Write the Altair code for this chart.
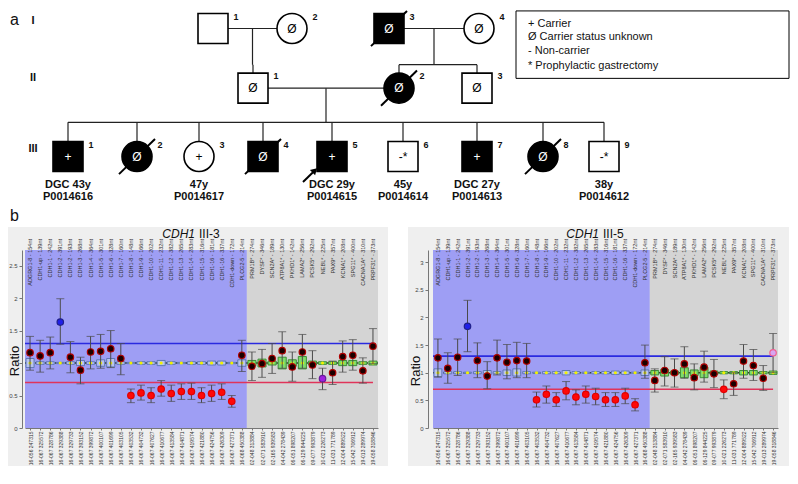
import altair as alt
import pandas as pd

FONT = "Liberation Sans"

# ---------------- pedigree (panel a) ----------------
ped_id = ["I-1", "I-2", "I-3", "I-4", "II-1", "II-2", "II-3",
          "III-1", "III-2", "III-3", "III-4", "III-5", "III-6", "III-7", "III-8", "III-9"]
ped_gen = ["I", "I", "I", "I", "II", "II", "II",
           "III", "III", "III", "III", "III", "III", "III", "III", "III"]
ped_num = ["1", "2", "3", "4", "1", "2", "3", "1", "2", "3", "4", "5", "6", "7", "8", "9"]
ped_sex = ["M", "F", "M", "F", "M", "F", "M", "M", "F", "F", "M", "M", "M", "M", "F", "M"]
ped_affected = ["no", "no", "yes", "no", "no", "yes", "no",
                "yes", "yes", "no", "yes", "yes", "no", "yes", "yes", "no"]
ped_status = ["", "Ø", "Ø", "Ø", "Ø", "Ø", "Ø", "+", "Ø", "+", "Ø", "+", "-*", "+", "Ø", "-*"]
ped_deceased = [False, False, True, False, False, True, False,
                False, True, False, True, False, False, False, True, False]
ped_proband = [False] * 11 + [True] + [False] * 4
ped_x = [213, 292, 389, 479, 253, 399, 477, 68, 137, 199, 263, 332, 403, 477, 543, 604]
gen_y = {"I": 21, "II": 82, "III": 152}
ped_line1 = [""] * 7 + ["DGC 43y", "", "47y", "", "DGC 29y", "45y", "DGC 27y", "", "38y"]
ped_line2 = [""] * 7 + ["P0014616", "", "P0014617", "", "P0014615", "P0014614", "P0014613", "", "P0014612"]

couples = [("I-1", "I-2", ["II-1"]),
           ("I-3", "I-4", ["II-2", "II-3"]),
           ("II-1", "II-2", ["III-1", "III-2", "III-3", "III-4", "III-5",
                             "III-6", "III-7", "III-8", "III-9"])]
sibship_y = {"I": 58, "II": 117}

gen_labels = ["I", "II", "III"]
gen_label_y = [13, 72, 144]

legend_lines = ["+ Carrier", "Ø Carrier status unknown", "-  Non-carrier", "*   Prophylactic gastrectomy"]
legend_y = [16, 30, 44, 59]

ped = pd.DataFrame({"id": ped_id, "gen": ped_gen, "num": ped_num, "sex": ped_sex,
                    "affected": ped_affected, "status": ped_status, "deceased": ped_deceased,
                    "proband": ped_proband, "x": ped_x, "line1": ped_line1, "line2": ped_line2})
ped["y"] = ped["gen"].map(gen_y)
pos = {r.id: (r.x, r.y) for r in ped.itertuples()}

segs = []
for a, b, kids in couples:
    (xa, ya), (xb, yb) = pos[a], pos[b]
    segs.append((xa + 15, ya, xb - 15, yb))
    mid = (xa + xb) / 2
    sy = sibship_y[ped.loc[ped.id == a, "gen"].iloc[0]]
    segs.append((mid, ya, mid, sy))
    kx = [pos[k][0] for k in kids]
    segs.append((min(kx + [mid]), sy, max(kx + [mid]), sy))
    for k in kids:
        segs.append((pos[k][0], sy, pos[k][0], pos[k][1] - 15))
seg_df = pd.DataFrame(segs, columns=["x1", "y1", "x2", "y2"])

PW, PH = 765, 216
pxs = alt.Scale(domain=[25, 790], nice=False, zero=False)
pys = alt.Scale(domain=[221, 0], nice=False, zero=False)
PX = lambda f: alt.X(f, scale=pxs, axis=None)
PY = lambda f: alt.Y(f, scale=pys, axis=None)

ped_lines = alt.Chart(seg_df).mark_rule(color="#222", strokeWidth=1.2, clip=True).encode(
    x=PX("x1:Q"), y=PY("y1:Q"), x2="x2:Q", y2="y2:Q")

ped_syms = alt.Chart(ped).mark_point(filled=True, size=900, stroke="black", strokeWidth=1.6,
                                      opacity=1, clip=True).encode(
    x=PX("x:Q"), y=PY("y:Q"),
    shape=alt.Shape("sex:N", scale=alt.Scale(domain=["M", "F"], range=["square", "circle"]), legend=None),
    fill=alt.Fill("affected:N", scale=alt.Scale(domain=["yes", "no"], range=["#000000", "#ffffff"]), legend=None))

ped_slash = alt.Chart(ped).transform_filter("datum.deceased").transform_calculate(
    sx1="datum.x - 18", sy1="datum.y + 18", sx2="datum.x + 18", sy2="datum.y - 18"
).mark_rule(color="black", strokeWidth=2, clip=True).encode(
    x=PX("sx1:Q"), y=PY("sy1:Q"), x2="sx2:Q", y2="sy2:Q")

ped_status_t = alt.Chart(ped).mark_text(fontSize=12, font=FONT, clip=True).encode(
    x=PX("x:Q"), y=PY("y:Q"), text="status:N",
    color=alt.Color("affected:N", scale=alt.Scale(domain=["yes", "no"], range=["#ffffff", "#000000"]), legend=None))

ped_num_t = alt.Chart(ped).mark_text(fontSize=9, fontWeight="bold", font=FONT, dx=23, dy=-12,
                                      color="#111", clip=True).encode(
    x=PX("x:Q"), y=PY("y:Q"), text="num:N")

ped_l1 = alt.Chart(ped).mark_text(fontSize=11, fontWeight="bold", font=FONT, dy=28, color="#111",
                                   clip=True).encode(x=PX("x:Q"), y=PY("y:Q"), text="line1:N")
ped_l2 = alt.Chart(ped).mark_text(fontSize=11, fontWeight="bold", font=FONT, dy=40, color="#111",
                                   clip=True).encode(x=PX("x:Q"), y=PY("y:Q"), text="line2:N")

prob = ped[ped.proband].copy()
prob_arrow = alt.Chart(prob).transform_calculate(
    ax1="datum.x - 29", ay1="datum.y + 26", ax2="datum.x - 19", ay2="datum.y + 16"
).mark_rule(color="black", strokeWidth=2, clip=True).encode(
    x=PX("ax1:Q"), y=PY("ay1:Q"), x2="ax2:Q", y2="ay2:Q")
prob_head = alt.Chart(prob).transform_calculate(hx="datum.x - 18", hy="datum.y + 15").mark_point(
    shape="triangle", angle=45, size=55, filled=True, color="black", opacity=1, clip=True).encode(
    x=PX("hx:Q"), y=PY("hy:Q"))

gen_df = pd.DataFrame({"g": gen_labels, "y": gen_label_y, "x": [33] * 3})
gen_t = alt.Chart(gen_df).mark_text(fontSize=11, fontWeight="bold", font=FONT, color="#111", clip=True).encode(
    x=PX("x:Q"), y=PY("y:Q"), text="g:N")

leg_box_df = pd.DataFrame({"x1": [516], "x2": [789], "y1": [3], "y2": [72]})
leg_box = alt.Chart(leg_box_df).mark_rect(fill="white", stroke="black", strokeWidth=1, clip=True).encode(
    x=PX("x1:Q"), x2="x2:Q", y=PY("y1:Q"), y2="y2:Q")
leg_df = pd.DataFrame({"t": legend_lines, "y": legend_y, "x": [528] * 4})
leg_t = alt.Chart(leg_df).mark_text(fontSize=11, font=FONT, align="left", color="#111", clip=True).encode(
    x=PX("x:Q"), y=PY("y:Q"), text="t:N")

panel_lab_df = pd.DataFrame({"t": ["a", "b"], "x": [10, 10], "y": [12, 213]})
panel_lab = alt.Chart(panel_lab_df).mark_text(fontSize=16, font=FONT, align="left", color="#111").encode(
    x=PX("x:Q"), y=PY("y:Q"), text="t:N")

pedigree = alt.layer(ped_lines, leg_box, leg_t, ped_syms, ped_slash, ped_status_t, ped_num_t,
                     ped_l1, ped_l2, prob_arrow, prob_head, gen_t, panel_lab).resolve_scale(
    fill="independent", color="independent").properties(width=PW, height=PH)

# ---------------- MLPA ratio charts (panel b) ----------------
top_labels = ["ADGRG1-8 - 154nt", "CDH1-up - 139nt", "CDH1-1 - 242nt", "CDH1-2 - 391nt", "CDH1-2 - 193nt",
              "CDH1-3 - 268nt", "CDH1-4 - 364nt", "CDH1-5 - 301nt", "CDH1-6 - 328nt", "CDH1-7 - 160nt",
              "CDH1-8 - 148nt", "CDH1-9 - 166nt", "CDH1-10 - 202nt", "CDH1-11 - 232nt", "CDH1-12 - 382nt",
              "CDH1-13 - 265nt", "CDH1-14 - 283nt", "CDH1-15 - 316nt", "CDH1-16 - 181nt", "CDH1-16 - 337nt",
              "CDH1-down - 172nt", "PLCG2-5 - 214nt", "PRM1B* - 274nt", "DYSF* - 346nt", "SCN2A* - 189nt",
              "ATP8A1* - 130nt", "PKHD1* - 142nt", "LAMA2* - 256nt", "PCSK5* - 292nt", "NEBL* - 225nt",
              "PAX9* - 357nt", "KCNA1* - 208nt", "SPG11* - 400nt", "CACNA1A* - 310nt", "PRPF31* - 373nt"]
bottom_labels = ["16-056 247315", "16-067 325572", "16-067 328786", "16-067 329388", "16-067 329733",
                 "16-067 393152", "16-067 399872", "16-067 400107", "16-067 401699", "16-067 403105",
                 "16-067 403532", "16-067 404732", "16-067 407627", "16-067 410677", "16-067 413584",
                 "16-067 414871", "16-067 419574", "16-067 421880", "16-067 424756", "16-067 426309",
                 "16-067 427371", "16-068 450388", "02-048 313884", "02-071 583910", "02-165 939583",
                 "04-042 278439", "06-051 898207", "06-129 844225", "09-077 993879", "10-021 226273",
                 "11-031 771789", "12-004 889522", "15-042 706912", "19-013 289974", "19-058 318846"]
region = ["target"] * 22 + ["reference"] * 13

ref_lo = [0.93, 0.98, 0.98, 0.99, 0.98, 0.96, 0.98, 0.95, 0.94, 0.98, 0.99, 0.98, 0.98, 0.96, 0.98, 0.99, 0.98,
          0.98, 0.97, 0.97, 0.99, 0.95, 0.96, 0.94, 0.97, 0.91, 0.95, 0.91, 0.97, 0.98, 0.98, 0.96, 0.96, 0.98, 0.97]
ref_hi = [1.07, 1.02, 1.02, 1.01, 1.02, 1.04, 1.02, 1.05, 1.07, 1.02, 1.01, 1.02, 1.02, 1.04, 1.02, 1.01, 1.02,
          1.02, 1.03, 1.03, 1.01, 1.05, 1.04, 1.06, 1.03, 1.09, 1.05, 1.10, 1.03, 1.02, 1.02, 1.04, 1.04, 1.02, 1.03]

# sample III-3
r3_ratio = [1.16, 1.11, 1.16, 1.63, 1.09, 0.89, 1.17, 1.18, 1.22, 1.07, 0.50, 0.54, 0.50, 0.60, 0.53, 0.56, 0.56,
            0.50, 0.53, 0.55, 0.41, 1.12, 0.95, 0.99, 1.07, 1.19, 0.94, 1.17, 0.97, 0.76, 0.85, 1.10, 1.12, 0.88, 1.26]
r3_lo = [0.89, 0.86, 0.91, 1.29, 0.85, 0.68, 0.91, 0.92, 0.93, 0.82, 0.39, 0.43, 0.39, 0.49, 0.41, 0.44, 0.44,
         0.39, 0.41, 0.44, 0.32, 0.87, 0.73, 0.78, 0.84, 0.92, 0.72, 0.92, 0.76, 0.59, 0.67, 0.86, 0.89, 0.69, 0.99]
r3_hi = [1.41, 1.35, 1.40, 1.99, 1.33, 1.09, 1.41, 1.44, 1.50, 1.30, 0.60, 0.66, 0.62, 0.73, 0.66, 0.68, 0.69,
         0.62, 0.66, 0.68, 0.50, 1.35, 1.17, 1.21, 1.30, 1.48, 1.17, 1.44, 1.19, 0.92, 1.03, 1.34, 1.36, 1.08, 1.53]
r3_cls = ["n", "n", "n", "g", "n", "n", "n", "n", "n", "n"] + ["d"] * 11 + \
         ["n", "n", "n", "n", "n", "n", "n", "n", "p", "n", "n", "n", "n", "n"]

# sample III-5
r5_ratio = [1.27, 1.08, 1.28, 1.84, 1.22, 0.94, 1.27, 1.19, 1.22, 1.21, 0.51, 0.61, 0.51, 0.67, 0.56, 0.61, 0.57,
            0.51, 0.51, 0.58, 0.42, 1.18, 0.86, 1.04, 1.00, 1.16, 0.91, 1.10, 0.98, 0.70, 0.80, 1.21, 1.13, 0.90, 1.36]
r5_lo = [0.92, 0.81, 0.95, 1.38, 0.91, 0.71, 0.96, 0.89, 0.91, 0.91, 0.38, 0.45, 0.39, 0.51, 0.42, 0.45, 0.42,
         0.39, 0.39, 0.44, 0.31, 0.90, 0.65, 0.76, 0.74, 0.90, 0.69, 0.83, 0.73, 0.53, 0.59, 0.90, 0.86, 0.68, 1.00]
r5_hi = [1.61, 1.36, 1.61, 2.31, 1.54, 1.20, 1.59, 1.51, 1.55, 1.53, 0.65, 0.76, 0.64, 0.84, 0.69, 0.76, 0.72,
         0.64, 0.64, 0.72, 0.53, 1.50, 1.07, 1.29, 1.25, 1.47, 1.16, 1.39, 1.24, 0.87, 1.00, 1.51, 1.42, 1.13, 1.71]
r5_cls = ["n", "n", "n", "g", "n", "n", "n", "n", "n", "n"] + ["d"] * 11 + \
         ["n", "n", "n", "n", "n", "n", "n", "n", "d", "n", "n", "n", "n", "l"]

upper_threshold = 1.3
lower_threshold = 0.7

H = 178
cls_dom = ["n", "g", "d", "p", "l"]
cls_fill = ["#1a0000", "#2020e8", "#ff0808", "#a020e0", "#d7a6f2"]
cls_stroke = ["#b00000", "#20208a", "#e00000", "#6a1a9a", "#f06090"]


def mlpa_chart(ratio, lo, hi, cls, ymax, yticks, width, sample, title_x, ratio_x, ratio_y,
               rect_l, rect_r, axis_off):
    n = len(top_labels)
    df = pd.DataFrame({"idx": list(range(n)), "top": top_labels, "ratio": ratio, "lo": lo, "hi": hi,
                       "cls": cls, "rlo": ref_lo, "rhi": ref_hi, "region": region, "one": [1.0] * n})
    expr = "[" + ",".join("'%s'" % s for s in bottom_labels) + "][datum.value]"
    xs = alt.Scale(domain=[-0.5, n - 0.5], nice=False, zero=False)
    xaxis = alt.Axis(values=list(range(n)), labelExpr=expr, labelAngle=270, labelFontSize=5,
                     labelColor="#333", labelFont=FONT, tickSize=2, tickColor="#777", domainColor="#777",
                     labelPadding=1, title=None, grid=False, labelOverlap=False, labelFlush=False,
                     labelBound=False, zindex=1)
    ys = alt.Scale(domain=[0, ymax], nice=False, zero=True)
    yaxis = alt.Axis(values=yticks, format="~g", labelFontSize=6, labelColor="#444", labelFont=FONT,
                     tickSize=3, tickColor="#777", domainColor="#777", offset=axis_off, title=None,
                     grid=False, labelPadding=2, zindex=1)
    X = lambda f: alt.X(f, scale=xs, axis=xaxis)
    Y = lambda f: alt.Y(f, scale=ys, axis=yaxis)
    one = pd.DataFrame({"k": [0]})

    panel = alt.Chart(one).mark_rect(color="#efefef").encode(
        x=alt.value(rect_l), x2=alt.value(width + rect_r), y=alt.value(-23), y2=alt.value(H + 38))

    counts = pd.Series(region).value_counts()
    n_t = int(counts["target"])
    reg_df = pd.DataFrame({"region": ["target", "reference"], "start": [-0.5, n_t - 0.5],
                           "end": [n_t - 0.5, n - 0.5]})
    regions = alt.Chart(reg_df).mark_rect().encode(
        x=X("start:Q"), x2="end:Q", y=alt.value(0), y2=alt.value(H),
        color=alt.Color("region:N", scale=alt.Scale(domain=["target", "reference"],
                                                     range=["#9e9ef4", "#d4d4d4"]), legend=None))

    thr_df = pd.DataFrame({"level": [upper_threshold, lower_threshold], "kind": ["up", "down"],
                           "x0": [-0.5, -0.5], "x1": [n - 1, n - 1]})
    thr = alt.Chart(thr_df).mark_rule(strokeWidth=1.6).encode(
        x=X("x0:Q"), x2="x1:Q", y=Y("level:Q"),
        color=alt.Color("kind:N", scale=alt.Scale(domain=["up", "down"], range=["#2a2ae0", "#e0345a"]),
                        legend=None))

    base_df = pd.DataFrame({"level": [1.0], "x0": [-0.5], "x1": [n - 0.5]})
    baseline = alt.Chart(base_df).mark_rule(strokeWidth=1.5, color="#2f3a2a", strokeDash=[3, 2]).encode(
        x=X("x0:Q"), x2="x1:Q", y=Y("level:Q"))

    boxes = alt.Chart(df).transform_calculate(bx0="datum.idx - 0.4", bx1="datum.idx + 0.4").mark_rect(
        strokeWidth=1).encode(
        x=X("bx0:Q"), x2="bx1:Q", y=Y("rlo:Q"), y2="rhi:Q",
        fill=alt.Fill("region:N", scale=alt.Scale(domain=["target", "reference"],
                                                   range=["#b9c3ee", "#7fdc6c"]), legend=None),
        stroke=alt.Stroke("region:N", scale=alt.Scale(domain=["target", "reference"],
                                                       range=["#5f78b5", "#3e8e36"]), legend=None))
    ydots = alt.Chart(df).mark_point(filled=True, size=10, color="#f2f200", opacity=1).encode(
        x=X("idx:Q"), y=Y("one:Q"))

    err = alt.Chart(df).mark_rule(color="#4a4a4a", strokeWidth=1).encode(
        x=X("idx:Q"), y=Y("lo:Q"), y2="hi:Q")
    cap_lo = alt.Chart(df).mark_tick(orient="horizontal", size=8, thickness=1, color="#4a4a4a").encode(
        x=X("idx:Q"), y=Y("lo:Q"))
    cap_hi = alt.Chart(df).mark_tick(orient="horizontal", size=8, thickness=1, color="#4a4a4a").encode(
        x=X("idx:Q"), y=Y("hi:Q"))

    pts = alt.Chart(df).mark_point(filled=True, size=42, strokeWidth=1.2, opacity=1).encode(
        x=X("idx:Q"), y=Y("ratio:Q"),
        fill=alt.Fill("cls:N", scale=alt.Scale(domain=cls_dom, range=cls_fill), legend=None),
        stroke=alt.Stroke("cls:N", scale=alt.Scale(domain=cls_dom, range=cls_stroke), legend=None))

    tops = alt.Chart(df).mark_text(angle=270, align="right", baseline="middle", fontSize=5.5,
                                   font=FONT, color="#333").encode(
        x=X("idx:Q"), y=alt.value(-11), text="top:N")

    t1 = alt.Chart(one).mark_text(text="CDH1", fontStyle="italic", align="right", fontSize=12,
                                  font=FONT, color="#111").encode(x=alt.value(title_x), y=alt.value(-16))
    t2 = alt.Chart(one).mark_text(text=sample, align="left", fontSize=12, font=FONT,
                                  color="#111").encode(x=alt.value(title_x + 4), y=alt.value(-16))
    rt = alt.Chart(one).mark_text(text="Ratio", angle=270, fontSize=13, font=FONT,
                                  color="#111").encode(x=alt.value(ratio_x), y=alt.value(ratio_y))

    return alt.layer(panel, regions, thr, baseline, boxes, ydots, err, cap_lo, cap_hi, pts, tops,
                     t1, t2, rt).resolve_scale(
        color="independent", fill="independent", stroke="independent").properties(width=width, height=H)


left = mlpa_chart(r3_ratio, r3_lo, r3_hi, r3_cls, 2.74, [0, 0.5, 1, 1.5, 2, 2.5], 353, "III-3",
                  170, -10, 111, -17, 10, 3)
right = mlpa_chart(r5_ratio, r5_lo, r5_hi, r5_cls, 3.22, [0, 0.5, 1, 1.5, 2, 2.5, 3], 345, "III-5",
                   166, -17, 121, -25, 11, 5)

chart = alt.vconcat(pedigree, alt.hconcat(left, right, spacing=20), spacing=2).properties(
    padding=0, background="white"
).configure(font=FONT).configure_view(strokeWidth=0)

chart.save("out.html", embed_options={"renderer": "svg", "actions": False})
